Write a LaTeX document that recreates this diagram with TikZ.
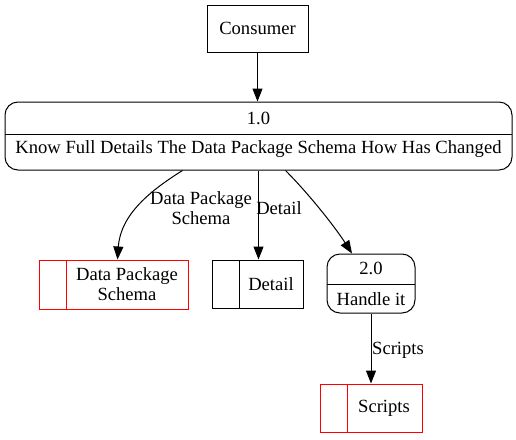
\documentclass[tikz,border=0pt]{standalone}
\usepackage{fontspec}
\setmainfont{Liberation Serif}
\usetikzlibrary{arrows.meta}

\begin{document}
\begin{tikzpicture}[x=1pt,y=-1pt,line width=1pt,
  font=\fontsize{18.6}{20}\selectfont,
  ext/.style={draw,minimum width=101pt,minimum height=47pt},
  proc/.style={draw,rounded corners=13pt},
  store/.style={draw,minimum height=49pt},
  flow/.style={-{Triangle[length=13pt,width=10pt]}}]
\useasboundingbox (0,0) rectangle (516,439);
% external entity
\node[ext] (con) at (257.5,28.5) {Consumer};
% process 1.0
\node[proc,minimum width=507pt,minimum height=68pt] (p1) at (258.5,136) {};
\draw (5,134) -- (512,134);
\node (p1id) at (258.5,118.5) {1.0};
\node (p1name) at (258.5,149) {Know Full Details The Data Package Schema How Has Changed};
% process 2.0
\node[proc,minimum width=88pt,minimum height=59pt] (p2) at (371,283.5) {};
\draw (327,284) -- (415,284);
\node (p2id) at (371,268.5) {2.0};
\node (p2name) at (371,299) {Handle it};
% data stores
\node[store,draw=red,minimum width=149pt] (dps) at (113.5,284.5) {};
\draw[red] (66,260) -- (66,309);
\node[align=center] (dpsname) at (127,284.5) {Data Package\\Schema};
\node[store,minimum width=91pt,minimum height=48pt] (dtl) at (257.5,284) {};
\draw (239,260) -- (239,308);
\node (dtlname) at (271,284) {Detail};
\node[store,draw=red,minimum width=102pt,minimum height=48pt] (scr) at (371,408) {};
\draw[red] (347,384) -- (347,432);
\node (scrname) at (384,408) {Scripts};
% flows
\draw[flow] (con.south) -- (con.south |- p1.north);
\draw[flow] ([xshift=-76pt]p1.south) .. controls +(-32,20) and +(3,-45) .. ([xshift=4pt]dps.north);
\node[align=center] (l1) at (201,208) {Data Package\\Schema};
\draw[flow] (p1.south) -- (p1.south |- dtl.north);
\node (l2) at (279,208) {Detail};
\draw[flow] ([xshift=27pt]p1.south) .. controls +(22,22) and +(-18,-28) .. ([xshift=-19pt]p2.north);
\draw[flow] (p2.south) -- (scr.north);
\node (l3) at (398,350) {Scripts};
\end{tikzpicture}
\end{document}
